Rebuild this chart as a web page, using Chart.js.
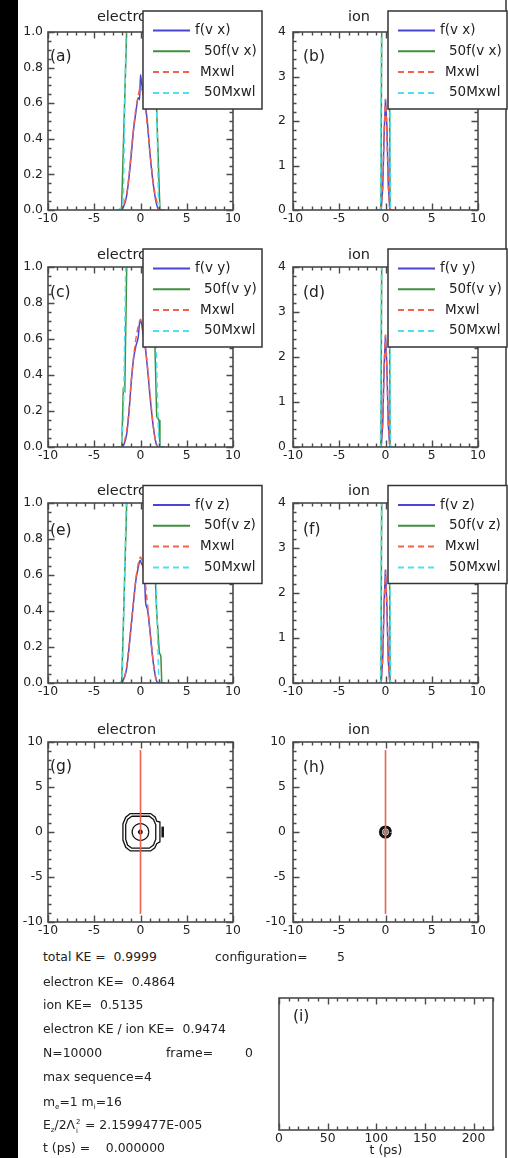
<!DOCTYPE html>
<html>
<head>
<meta charset="utf-8">
<title>velocity distributions</title>
<script src="https://cdn.jsdelivr.net/npm/chart.js@4.4.1/dist/chart.umd.min.js"></script>
<style>
  html, body { margin: 0; padding: 0; }
  body { width: 508px; height: 1158px; position: relative; overflow: hidden; background: #fff;
         font-family: "DejaVu Sans", sans-serif; color: #222; }
  #strip { position: absolute; left: 0; top: 0; width: 18px; height: 1158px; background: #000; }
  #edge { position: absolute; left: 505px; top: 0; width: 1.5px; height: 1158px; background: #666; }
  canvas { position: absolute; }
  .t { position: absolute; font-size: 12.4px; line-height: 16px; white-space: pre; }
  .t sub { font-size: 7px; line-height: 0; }
  .ss { position: relative; display: inline-block; width: 6px; height: 9px; }
  .ss i { position: absolute; left: 1px; font-style: normal; font-size: 7px; line-height: 7px; }
  .ss .up { top: -1px; }
  .ss .dn { top: 8px; }
</style>
</head>
<body>
<div id="strip"></div>
<div id="edge"></div>
<canvas id="pa"></canvas><canvas id="pb"></canvas>
<canvas id="pc"></canvas><canvas id="pd"></canvas>
<canvas id="pe"></canvas><canvas id="pf"></canvas>
<canvas id="pg"></canvas><canvas id="ph"></canvas>
<canvas id="pi"></canvas>

<div class="t" style="left:43px;top:949px">total KE =  0.9999</div>
<div class="t" style="left:215px;top:949px">configuration=</div>
<div class="t" style="left:337px;top:949px">5</div>
<div class="t" style="left:43px;top:974px">electron KE=  0.4864</div>
<div class="t" style="left:43px;top:997px">ion KE=  0.5135</div>
<div class="t" style="left:43px;top:1021px">electron KE / ion KE=  0.9474</div>
<div class="t" style="left:43px;top:1045px">N=10000</div>
<div class="t" style="left:166px;top:1045px">frame=</div>
<div class="t" style="left:245px;top:1045px">0</div>
<div class="t" style="left:43px;top:1069px">max sequence=4</div>
<div class="t" style="left:43px;top:1094px">m<sub>e</sub>=1 m<sub>i</sub>=16</div>
<div class="t" style="left:43px;top:1117px">E<sub>z</sub>/2Λ<span class="ss"><i class="up">2</i><i class="dn">i</i></span> = 2.1599477E-005</div>
<div class="t" style="left:43px;top:1140px">t (ps) =    0.000000</div>

<script>
// electron velocity grid (f and Maxwellian)
const vE = [-2.5, -2.25, -2, -1.75, -1.5, -1.25, -1, -0.75, -0.5, -0.25, -0.1, 0, 0.1, 0.25, 0.5, 0.75, 1, 1.25, 1.5, 1.75, 2, 2.25, 2.5];
const vEz = [-2.5, -2.25, -2, -1.75, -1.5, -1.25, -1, -0.75, -0.5, -0.25, -0.05, 0.1, 0.25, 0.4, 0.55, 0.75, 1, 1.25, 1.5, 1.75, 2, 2.25, 2.5];

// (a) electron vx
const aF = [0, 0, 0.005, 0.03, 0.08, 0.18, 0.31, 0.45, 0.55, 0.63, 0.62, 0.76, 0.72, 0.67, 0.60, 0.49, 0.33, 0.20, 0.10, 0.03, 0, 0, 0];
const aM = [0, 0, 0.01, 0.04, 0.09, 0.19, 0.33, 0.46, 0.57, 0.64, 0.68, 0.69, 0.685, 0.66, 0.58, 0.47, 0.34, 0.21, 0.11, 0.05, 0.01, 0, 0];
const a50FV = [-2.6, -2.05, -1.5, -1.2, 0, 1.2, 1.47, 1.75, 2.1, 2.6];
const a50F = [0, 0, 1.0, 9, 38, 10, 1.0, 0.56, 0, 0];
const a50MV = [-2.6, -2.4, -1.95, -1.85, -1.75, -1.57, -1.3, 0, 1.3, 1.6, 1.75, 1.93, 2.1, 2.6];
const a50M = [0, 0, 0.02, 0.07, 0.4, 1.0, 9, 34, 9, 1.1, 0.57, 0.08, 0, 0];

// (c) electron vy
const cF = [0, 0, 0, 0.02, 0.07, 0.19, 0.36, 0.49, 0.56, 0.61, 0.69, 0.70, 0.69, 0.64, 0.56, 0.44, 0.30, 0.17, 0.07, 0.01, 0, 0, 0];
const cM = [0, 0, 0.005, 0.03, 0.09, 0.2, 0.37, 0.5, 0.6, 0.67, 0.7, 0.71, 0.7, 0.66, 0.57, 0.45, 0.31, 0.18, 0.07, 0.01, 0, 0, 0];
const c50FV = [-2.6, -2.03, -1.86, -1.7, -1.49, -1.2, 0, 1.2, 1.45, 1.57, 1.75, 2.0, 2.1, 2.6];
const c50F = [0, 0, 0.32, 0.31, 1.0, 9, 35, 9, 1.0, 0.54, 0.17, 0.15, 0, 0];
const c50MV = [-2.6, -2.1, -1.85, -1.6, -1.3, 0, 1.3, 1.55, 1.75, 1.95, 2.1, 2.6];
const c50M = [0, 0, 0.15, 1.0, 9, 35, 9, 1.0, 0.45, 0.06, 0, 0];

// (e) electron vz
const eF = [0, 0, 0.005, 0.03, 0.08, 0.19, 0.32, 0.45, 0.57, 0.64, 0.68, 0.665, 0.65, 0.63, 0.45, 0.41, 0.3, 0.17, 0.07, 0.01, 0, 0, 0];
const eM = [0, 0, 0.005, 0.03, 0.09, 0.2, 0.33, 0.46, 0.58, 0.66, 0.69, 0.70, 0.69, 0.65, 0.56, 0.44, 0.31, 0.18, 0.07, 0.01, 0, 0, 0];
const e50FV = [-2.6, -2.03, -1.49, -1.2, 0, 1.2, 1.45, 1.62, 1.75, 1.86, 2.03, 2.2, 2.3, 2.6];
const e50F = [0, 0, 1.0, 9, 34, 9, 1.0, 0.56, 0.39, 0.31, 0.17, 0.15, 0, 0];
const e50MV = [-2.6, -2.2, -1.95, -1.55, -1.3, 0, 1.3, 1.55, 1.75, 1.95, 2.1, 2.6];
const e50M = [0, 0, 0.05, 1.0, 9, 35, 9, 1.0, 0.45, 0.06, 0, 0];

// ion (b), (d), (f)
const vI = [-0.75, -0.6, -0.45, -0.3, -0.15, 0, 0.15, 0.3, 0.45, 0.6, 0.75];
const bF = [0, 0, 0.05, 0.5, 1.7, 2.48, 1.9, 0.6, 0.05, 0, 0];
const dF = [0, 0, 0.04, 0.5, 1.8, 2.47, 1.8, 0.5, 0.05, 0, 0];
const fF = [0, 0, 0.05, 0.55, 1.8, 2.52, 1.7, 0.5, 0.06, 0, 0];
const ionM = [0, 0, 0.06, 0.55, 1.75, 2.5, 1.75, 0.55, 0.06, 0, 0];
const ion50FV = [-0.9, -0.5, -0.41, -0.3, 0, 0.3, 0.41, 0.5, 0.9];
const ion50F = [0, 0, 4, 15, 124, 15, 4, 0, 0];
const ion50MV = [-0.9, -0.55, -0.44, -0.3, 0, 0.3, 0.44, 0.55, 0.9];
const ion50M = [0, 0, 4, 14, 125, 14, 4, 0, 0];

// phase space contours (g), (h)
const redLineX = [0, 0];
const redLineY = [-9.1, 9.1];
const elecOuter = [[-1.1, 2.05], [1.1, 2.05], [1.6, 1.65], [1.75, 1.2], [2.1, 1.1], [2.1, -1.1], [1.75, -1.3], [1.55, -1.75], [1.1, -2.1], [-1.1, -2.1], [-1.6, -1.7], [-1.9, -0.9], [-1.9, 0.9], [-1.6, 1.65], [-1.1, 2.05]];
const elecOuter2 = [[-0.95, 1.75], [0.95, 1.75], [1.4, 1.4], [1.65, 0.8], [1.65, -0.8], [1.4, -1.45], [0.95, -1.8], [-0.95, -1.8], [-1.4, -1.45], [-1.6, -0.8], [-1.6, 0.8], [-1.4, 1.4], [-0.95, 1.75]];
const elecMid = [[0.9, 0], [0.78, 0.47], [0.45, 0.8], [0, 0.93], [-0.45, 0.8], [-0.78, 0.47], [-0.9, 0], [-0.78, -0.47], [-0.45, -0.8], [0, -0.93], [0.45, -0.8], [0.78, -0.47], [0.9, 0]];
const elecCore = [[0.2, 0], [0, 0.2], [-0.2, 0], [0, -0.2], [0.2, 0]];
const elecBar = [[2.4, -0.6], [2.4, 0.6]];
const ionRing = [[0.55, 0], [0.39, 0.4], [0, 0.56], [-0.39, 0.4], [-0.55, 0], [-0.39, -0.4], [0, -0.56], [0.39, -0.4], [0.55, 0]];
const ionCore = [[0.25, 0], [0, 0.25], [-0.25, 0], [0, -0.25], [0.25, 0]];

// (i) energy history, empty at t = 0
const keT = [];
const keVal = [];

const BLUE = '#4747d2', GREEN = '#3f8f3f', RED = '#f4624f', CYAN = '#4ae2f2', FRAME = '#4a4a4a';

Chart.defaults.font.family = "'DejaVu Sans', sans-serif";
Chart.defaults.color = '#222';

function pts(xs, ys) { return xs.map((x, i) => ({ x: x, y: ys[i] })); }
function pairs(list) { return list.map(p => ({ x: p[0], y: p[1] })); }

function distSets(tag, fV, f, f50V, f50, mV, m, m50V, m50, smooth) {
    const base = { showLine: true, pointRadius: 0, borderWidth: 1.5, fill: false };
    const mode = smooth ? 'monotone' : 'default';
    return [
        Object.assign({}, base, { label: 'f(' + tag + ')', data: pts(fV, f), borderColor: BLUE, order: 4, cubicInterpolationMode: mode }),
        Object.assign({}, base, { label: '50f(' + tag + ')', data: pts(f50V, f50), borderColor: GREEN, order: 3 }),
        Object.assign({}, base, { label: 'Mxwl', data: pts(mV, m), borderColor: RED, borderDash: [6, 4], order: 2, cubicInterpolationMode: mode }),
        Object.assign({}, base, { label: '50Mxwl', data: pts(m50V, m50), borderColor: CYAN, borderDash: [6, 4], order: 1 })
    ];
}

function contourSets(list) {
    return list.map((c, i) => ({
        data: pairs(c.pts), showLine: true, pointRadius: 0, borderColor: c.color || '#111',
        borderWidth: c.w || 1.3, tension: c.t || 0, order: i + 1
    }));
}

const frameCfg = {};

// box, inward ticks on all sides, panel letter, title and the boxed legend
const framePlugin = {
    id: 'frame',
    afterDraw(chart) {
        const c = frameCfg[chart.canvas.id];
        const ctx = chart.ctx, a = chart.chartArea;
        const xs = chart.scales.x, ys = chart.scales.y;
        const bx = c.box[0], by = c.box[1];
        const run = (min, max, step, major, fn) => {
            const n0 = Math.ceil(min / step - 1e-9), n1 = Math.floor(max / step + 1e-9);
            for (let k = n0; k <= n1; k++) {
                const v = k * step;
                const isMajor = Math.abs(v / major - Math.round(v / major)) < 1e-6;
                fn(v, isMajor ? 6.5 : 3.5);
            }
        };
        ctx.save();
        ctx.setLineDash([]);
        ctx.strokeStyle = FRAME;
        ctx.lineWidth = 1.4;
        ctx.beginPath();
        run(c.xMin, c.xMax, c.xMinor, c.xStep, (v, len) => {
            const p = Math.round(xs.getPixelForValue(v)) + 0.5;
            ctx.moveTo(p, a.bottom);
            ctx.lineTo(p, a.bottom - len);
            ctx.moveTo(p, a.top);
            ctx.lineTo(p, a.top + len);
        });
        if (c.yMinor) {
            run(c.yMin, c.yMax, c.yMinor, c.yStep, (v, len) => {
                const p = Math.round(ys.getPixelForValue(v)) + 0.5;
                ctx.moveTo(a.left, p);
                ctx.lineTo(a.left + len, p);
                ctx.moveTo(a.right, p);
                ctx.lineTo(a.right - len, p);
            });
        }
        ctx.stroke();
        ctx.lineWidth = 1.6;
        ctx.strokeRect(a.left, a.top, a.right - a.left, a.bottom - a.top);

        ctx.fillStyle = '#222';
        ctx.textBaseline = 'middle';
        if (c.letter) {
            ctx.font = '15.5px "DejaVu Sans"';
            ctx.textAlign = 'left';
            ctx.fillText(c.letter, c.letterAt[0] - bx, c.letterAt[1] - by);
        }
        if (c.title) {
            ctx.font = '14.5px "DejaVu Sans"';
            ctx.textAlign = 'center';
            ctx.fillText(c.title, c.titleAt[0] - bx, c.titleAt[1] - by);
        }
        if (c.legendTop) {
            const lx = a.left + 95, ly = c.legendTop - by, w = 119, h = 98;
            const textX = [52, 61, 57, 61];
            ctx.fillStyle = '#fff';
            ctx.fillRect(lx, ly, w, h);
            ctx.strokeStyle = '#333';
            ctx.lineWidth = 1.5;
            ctx.strokeRect(lx, ly, w, h);
            ctx.font = '13.5px "DejaVu Sans"';
            ctx.textAlign = 'left';
            chart.data.datasets.forEach((ds, i) => {
                const ry = ly + 19.5 + i * 20.8;
                ctx.strokeStyle = ds.borderColor;
                ctx.lineWidth = 2;
                ctx.setLineDash(ds.borderDash || []);
                ctx.beginPath();
                ctx.moveTo(lx + 10, ry);
                ctx.lineTo(lx + 47, ry);
                ctx.stroke();
                ctx.setLineDash([]);
                ctx.fillStyle = '#222';
                ctx.fillText(ds.label, lx + textX[i], ry);
            });
        }
        ctx.restore();
    }
};

function makePanel(id, box, area, o) {
    const cv = document.getElementById(id);
    cv.style.left = box[0] + 'px';
    cv.style.top = box[1] + 'px';
    cv.width = box[2];
    cv.height = box[3];
    const yW = area[0] - box[0];
    const xH = o.xH || 20;
    frameCfg[id] = Object.assign({ box: box }, o);
    return new Chart(cv, {
        type: 'scatter',
        data: { datasets: o.datasets },
        options: {
            responsive: false, animation: false, events: [], devicePixelRatio: 1,
            layout: { padding: { left: 0, top: area[1] - box[1], right: box[0] + box[2] - area[2], bottom: box[1] + box[3] - area[3] - xH } },
            plugins: { legend: { display: false }, tooltip: { enabled: false } },
            scales: {
                x: {
                    type: 'linear', min: o.xMin, max: o.xMax,
                    grid: { display: false, drawTicks: false }, border: { display: false },
                    ticks: { stepSize: o.xStep, includeBounds: false, autoSkip: false, maxRotation: 0, minRotation: 0,
                             padding: 1, font: { size: 12.4 }, color: '#222', callback: v => String(v) },
                    title: o.xTitle ? { display: true, text: o.xTitle, padding: 0, font: { size: 12.4 }, color: '#222' } : { display: false },
                    afterFit: s => { s.height = xH; }
                },
                y: {
                    type: 'linear', min: o.yMin, max: o.yMax,
                    grid: { display: false, drawTicks: false }, border: { display: false },
                    ticks: { display: o.yLabels !== false, stepSize: o.yStep, includeBounds: false, autoSkip: false,
                             padding: o.yPad || 5, font: { size: 12.4 }, color: '#222',
                             callback: v => o.yFmt ? v.toFixed(o.yFmt) : String(Math.round(v)) },
                    afterFit: s => { s.width = yW; }
                }
            }
        },
        plugins: [framePlugin]
    });
}

const LEFT = [18, 250], RIGHT = [262, 246];
const elecAxes = { xMin: -10, xMax: 10, xStep: 5, xMinor: 1, yMin: 0, yMax: 1, yStep: 0.2, yMinor: 0.05, yFmt: 1, yPad: 5 };
const ionAxes = { xMin: -10, xMax: 10, xStep: 5, xMinor: 1, yMin: 0, yMax: 4, yStep: 1, yMinor: 0.2, yPad: 7 };
const phaseAxes = { xMin: -10, xMax: 10, xStep: 5, xMinor: 1, yMin: -10, yMax: 10, yStep: 5, yMinor: 1 };

makePanel('pa', [LEFT[0], 0, LEFT[1], 232], [48, 32, 233, 210], Object.assign({}, elecAxes, {
    datasets: distSets('v x', vE, aF, a50FV, a50F, vE, aM, a50MV, a50M, true),
    letter: '(a)', letterAt: [50, 57], title: 'electron', titleAt: [126.5, 17], legendTop: 11
}));
makePanel('pb', [RIGHT[0], 0, RIGHT[1], 232], [293, 32, 478, 210], Object.assign({}, ionAxes, {
    datasets: distSets('v x', vI, bF, ion50FV, ion50F, vI, ionM, ion50MV, ion50M, false),
    letter: '(b)', letterAt: [303, 57], title: 'ion', titleAt: [359, 17], legendTop: 11
}));
makePanel('pc', [LEFT[0], 232, LEFT[1], 235], [48, 267, 233, 447], Object.assign({}, elecAxes, {
    datasets: distSets('v y', vE, cF, c50FV, c50F, vE, cM, c50MV, c50M, true),
    letter: '(c)', letterAt: [50, 293], title: 'electron', titleAt: [126.5, 255], legendTop: 249
}));
makePanel('pd', [RIGHT[0], 232, RIGHT[1], 235], [293, 267, 478, 447], Object.assign({}, ionAxes, {
    datasets: distSets('v y', vI, dF, ion50FV, ion50F, vI, ionM, ion50MV, ion50M, false),
    letter: '(d)', letterAt: [303, 293], title: 'ion', titleAt: [359, 255], legendTop: 249
}));
makePanel('pe', [LEFT[0], 467, LEFT[1], 236], [48, 503, 233, 683], Object.assign({}, elecAxes, {
    datasets: distSets('v z', vEz, eF, e50FV, e50F, vE, eM, e50MV, e50M, true),
    letter: '(e)', letterAt: [50, 531], title: 'electron', titleAt: [126.5, 491.5], legendTop: 485.5
}));
makePanel('pf', [RIGHT[0], 467, RIGHT[1], 236], [293, 503, 478, 683], Object.assign({}, ionAxes, {
    datasets: distSets('v z', vI, fF, ion50FV, ion50F, vI, ionM, ion50MV, ion50M, false),
    letter: '(f)', letterAt: [303, 530], title: 'ion', titleAt: [359, 491.5], legendTop: 485.5
}));

const redLine = { data: pts(redLineX, redLineY), showLine: true, pointRadius: 0, borderColor: '#f0604c', borderWidth: 1.6, order: 0 };

makePanel('pg', [LEFT[0], 703, LEFT[1], 240], [48, 742, 233, 922], Object.assign({}, phaseAxes, {
    yPad: 5,
    datasets: [redLine].concat(contourSets([
        { pts: elecOuter }, { pts: elecOuter2 }, { pts: elecMid, t: 0.3 },
        { pts: elecCore, w: 1.8, t: 0.3 }, { pts: elecBar, w: 2.5 }
    ])),
    letter: '(g)', letterAt: [50, 767], title: 'electron', titleAt: [126.5, 730]
}));
makePanel('ph', [RIGHT[0], 703, RIGHT[1], 240], [293, 742, 478, 922], Object.assign({}, phaseAxes, {
    yPad: 7,
    datasets: [Object.assign({}, redLine)].concat(contourSets([
        { pts: ionRing, w: 3, t: 0.3 }, { pts: ionCore, w: 2, t: 0.3, color: '#777' }
    ])),
    letter: '(h)', letterAt: [303, 768], title: 'ion', titleAt: [359, 730]
}));

makePanel('pi', [RIGHT[0], 943, RIGHT[1], 215], [279, 998, 493, 1130], {
    xMin: 0, xMax: 220, xStep: 50, xMinor: 10, yMin: 0, yMax: 1, yStep: 0.5, yMinor: null,
    yLabels: false, xH: 28, xTitle: 't (ps)',
    datasets: [{ data: pts(keT, keVal), showLine: true, pointRadius: 0, borderColor: '#111', borderWidth: 1.3 }],
    letter: '(i)', letterAt: [293, 1017]
});
</script>
</body>
</html>
